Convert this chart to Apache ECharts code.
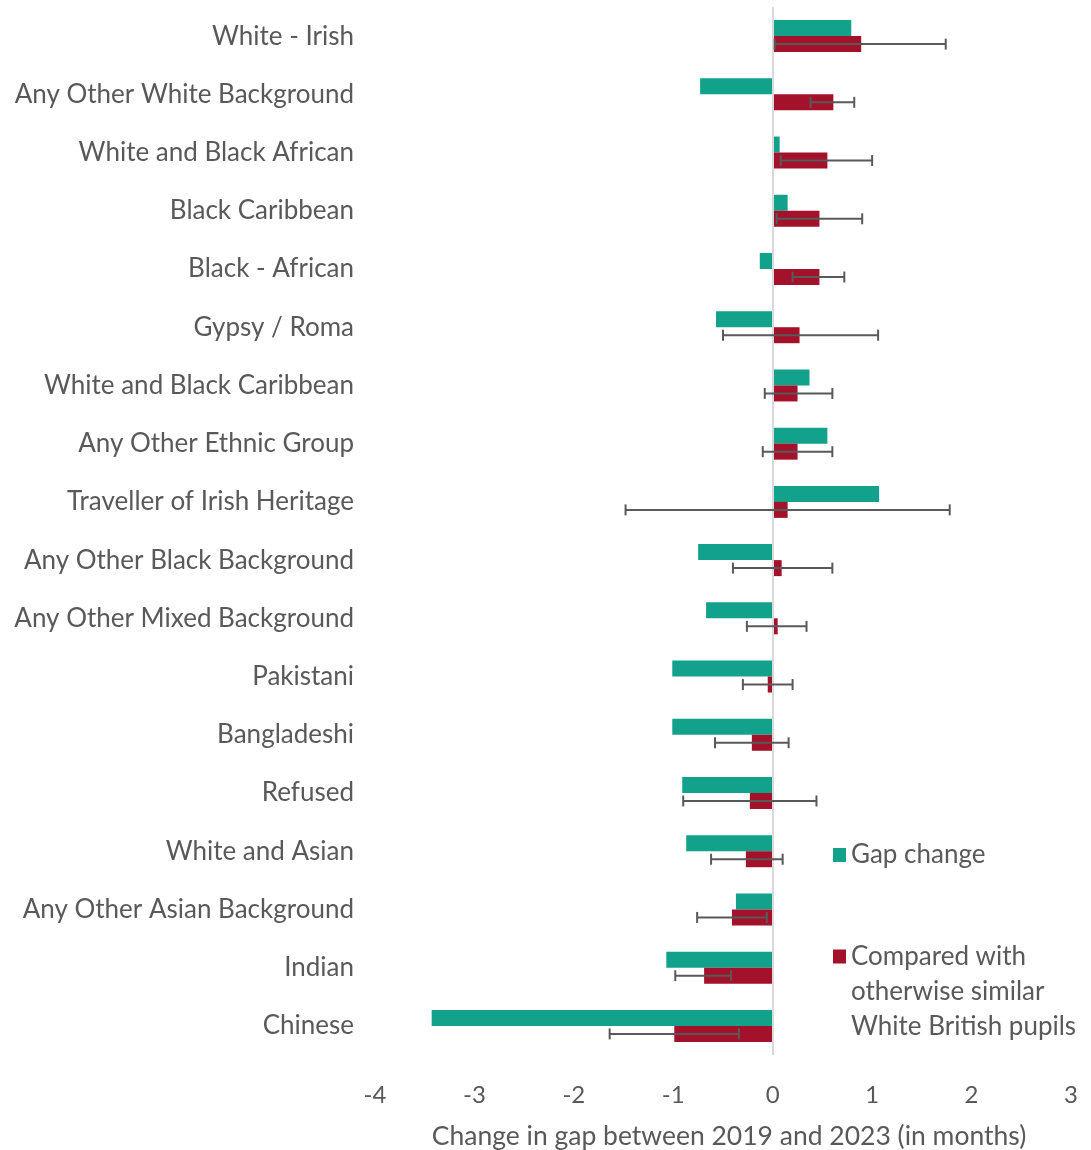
<!DOCTYPE html>
<html>
<head>
<meta charset="utf-8">
<script src="https://cdn.jsdelivr.net/npm/echarts@6/dist/echarts.min.js"></script>
<style>
  html, body { margin: 0; padding: 0; background: #fff; }
  #chart { width: 1091px; height: 1150px; }
</style>
</head>
<body>
<div id="chart"></div>
<script>
// Ethnic groups, top to bottom
const categories = [
  'White - Irish', 'Any Other White Background', 'White and Black African',
  'Black Caribbean', 'Black - African', 'Gypsy / Roma',
  'White and Black Caribbean', 'Any Other Ethnic Group', 'Traveller of Irish Heritage',
  'Any Other Black Background', 'Any Other Mixed Background', 'Pakistani',
  'Bangladeshi', 'Refused', 'White and Asian',
  'Any Other Asian Background', 'Indian', 'Chinese'
];

// Raw change in the gap, 2019 to 2023 (months)
const gapChange = [
  0.79, -0.73, 0.07, 0.15, -0.13, -0.57,
  0.37, 0.55, 1.07, -0.75, -0.67, -1.01,
  -1.01, -0.91, -0.87, -0.37, -1.07, -3.43
];

// Change compared with otherwise similar White British pupils (months)
const comparedChange = [
  0.89, 0.61, 0.55, 0.47, 0.47, 0.27,
  0.25, 0.25, 0.15, 0.09, 0.05, -0.05,
  -0.21, -0.23, -0.27, -0.41, -0.69, -0.99
];

// Confidence interval bounds for the comparison
const ciLower = [
  0.02, 0.38, 0.08, 0.04, 0.20, -0.50,
  -0.08, -0.10, -1.48, -0.40, -0.26, -0.30,
  -0.58, -0.90, -0.62, -0.76, -0.98, -1.64
];
const ciUpper = [
  1.74, 0.82, 1.00, 0.90, 0.72, 1.06,
  0.60, 0.60, 1.78, 0.60, 0.34, 0.20,
  0.16, 0.44, 0.10, -0.06, -0.42, -0.34
];

const xTickMin = -4;
const xTickMax = 3;
const xTickStep = 1;

const FONT = 'Lato';
const TEXT = '#595959';
const TEAL = '#12a18a';
const RED = '#a3112b';
const BAR_W = 16;

const comparedName = 'Compared with otherwise similar White British pupils';

const chart = echarts.init(document.getElementById('chart'));

chart.setOption({
  animation: false,
  textStyle: { fontFamily: FONT },
  grid: {
    left: 375, right: 20, top: 7, bottom: 95,
    containLabel: false,
    outerBoundsMode: 'none'
  },
  legend: [
    {
      data: ['Gap change'],
      left: 833, top: 842,
      orient: 'vertical', padding: 0,
      itemWidth: 13, itemHeight: 14,
      icon: 'rect',
      textStyle: { fontFamily: FONT, fontSize: 26, color: TEXT }
    },
    {
      data: [comparedName],
      left: 833, top: 869,
      orient: 'vertical', padding: 0,
      itemWidth: 13, itemHeight: 14,
      icon: 'rect',
      // two leading blank lines keep the swatch level with the first line
      formatter: () => '\n\nCompared with\notherwise similar\nWhite British pupils',
      textStyle: { fontFamily: FONT, fontSize: 26, color: TEXT, lineHeight: 35 }
    }
  ],
  xAxis: {
    type: 'value',
    min: xTickMin, max: xTickMax, interval: xTickStep,
    axisLine: { show: false },
    axisTick: { show: false },
    splitLine: { show: false },
    axisLabel: { color: TEXT, fontSize: 24, fontFamily: FONT, margin: 28 },
    name: 'Change in gap between 2019 and 2023 (in months)',
    nameLocation: 'middle',
    nameGap: 68,
    nameTextStyle: { color: TEXT, fontSize: 26.5, fontFamily: FONT, padding: [0, 0, 0, 12] }
  },
  yAxis: {
    type: 'category',
    data: categories,
    inverse: true,
    axisLine: { show: false },
    axisTick: { show: false },
    splitLine: { show: false },
    axisLabel: { color: TEXT, fontSize: 26, fontFamily: FONT, margin: 21, padding: [4, 0, 0, 0] }
  },
  series: [
    {
      name: 'Gap change',
      type: 'bar',
      data: gapChange,
      barWidth: BAR_W,
      barGap: '0%',
      itemStyle: { color: TEAL },
      markLine: {
        silent: true,
        symbol: 'none',
        label: { show: false },
        lineStyle: { color: '#d9d9d9', width: 2, type: 'solid' },
        data: [{ xAxis: 0 }]
      }
    },
    {
      name: comparedName,
      type: 'bar',
      data: comparedChange,
      barWidth: BAR_W,
      barGap: '0%',
      itemStyle: { color: RED }
    },
    {
      name: 'Confidence interval',
      type: 'custom',
      z: 5,
      encode: { x: [1, 2], y: 0 },
      data: categories.map((c, i) => [i, ciLower[i], ciUpper[i]]),
      renderItem: function (params, api) {
        const idx = api.value(0);
        const pLo = api.coord([api.value(1), idx]);
        const pHi = api.coord([api.value(2), idx]);
        const y = pLo[1] + BAR_W / 2;
        const cap = 5.5;
        const style = { stroke: '#595959', lineWidth: 2 };
        return {
          type: 'group',
          children: [
            { type: 'line', shape: { x1: pLo[0], y1: y, x2: pHi[0], y2: y }, style },
            { type: 'line', shape: { x1: pLo[0], y1: y - cap, x2: pLo[0], y2: y + cap }, style },
            { type: 'line', shape: { x1: pHi[0], y1: y - cap, x2: pHi[0], y2: y + cap }, style }
          ]
        };
      },
      tooltip: { show: false }
    }
  ]
});
</script>
</body>
</html>
